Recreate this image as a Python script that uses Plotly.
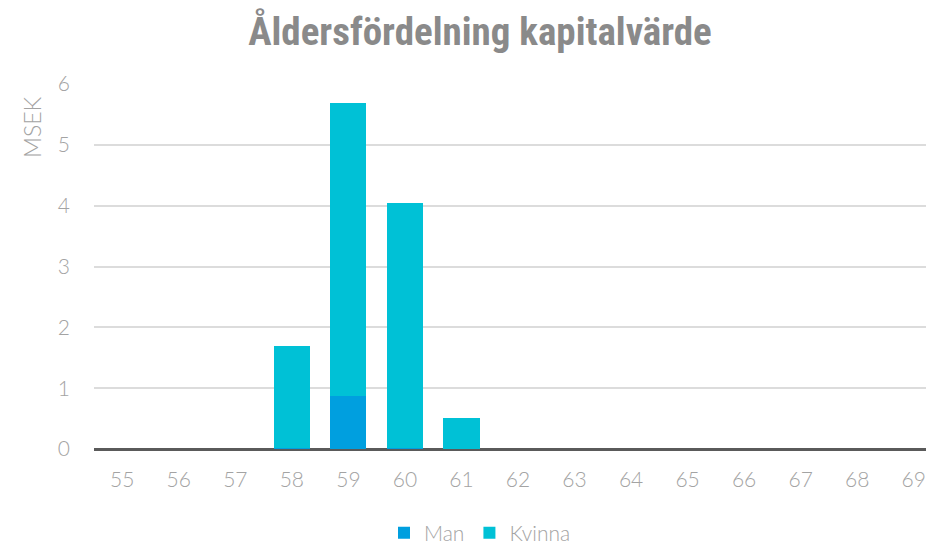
import plotly.graph_objects as go

ages = [str(a) for a in range(55, 70)]
man = [0, 0, 0, 0.02, 0.87, 0.02, 0, 0, 0, 0, 0, 0, 0, 0, 0]
kvinna = [0, 0, 0, 1.67, 4.82, 4.03, 0.51, 0, 0, 0, 0, 0, 0, 0, 0]
y_ticks = [0, 1, 2, 3, 4, 5, 6]

W, H = 934, 543
OFF = 8  # default page body margin
L, R, T, B = 86, 0, 84 - OFF, H + OFF - 449
light = "Lato Light, Lato"
gray = "#a3a3a3"

fig = go.Figure()
fig.add_trace(go.Bar(x=ages, y=man, name="Man", marker=dict(color="#009fdf", line=dict(width=0))))
fig.add_trace(go.Bar(x=ages, y=kvinna, name="Kvinna", marker=dict(color="#00c1d6", line=dict(width=0))))

pw, ph = W - L - R, H - T - B
x0 = L + OFF
fig.update_layout(
    width=W, height=H,
    barmode="stack", bargap=0.36,
    plot_bgcolor="white", paper_bgcolor="white",
    margin=dict(l=L, r=R, t=T, b=B),
    title=dict(text="<b>Åldersfördelning kapitalvärde</b>", x=(480 - OFF) / W, xanchor="center",
               y=1 - (31 - OFF) / H, yanchor="middle",
               font=dict(family="Roboto Condensed, Liberation Sans Narrow, Roboto", size=39, color="#8a8a8a")),
    font=dict(family=light, color=gray),
    xaxis=dict(type="category", tickfont=dict(size=21, color=gray, family=light), ticks="", showgrid=False,
               showline=False, ticklabelstandoff=16),
    yaxis=dict(range=[0, 6], tickvals=y_ticks, tickfont=dict(size=21, color=gray, family=light),
               showgrid=True, gridcolor="#dcdcdc", gridwidth=1.5, zeroline=True, zerolinecolor="#5a5a5a",
               zerolinewidth=2.5, ticks="", ticklabelstandoff=23),
    legend=dict(orientation="h", x=(480 - x0) / pw, xanchor="center", yref="container",
                y=1 - (533 - OFF) / H, yanchor="middle",
                traceorder="normal", font=dict(size=21, color=gray, family=light)),
    annotations=[dict(text="MSEK", textangle=-90, x=(32 - x0) / pw, xref="paper", xanchor="center",
                      y=(449 - 127) / ph, yref="paper", yanchor="middle", showarrow=False,
                      font=dict(size=23, color=gray, family=light))],
)
fig.write_html("out.html")
